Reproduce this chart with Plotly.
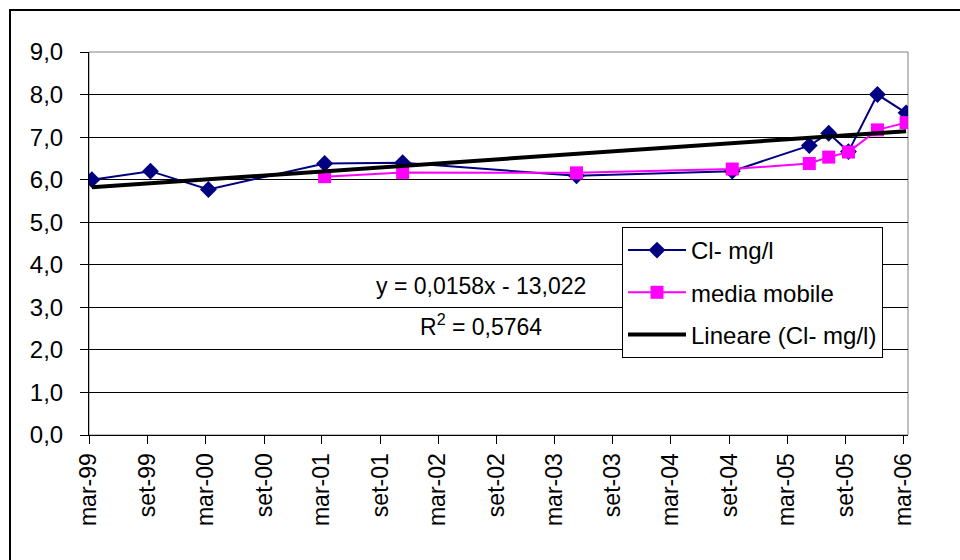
import plotly.graph_objects as go

# ---- data ----
cl_dates = ["1999-03-10", "1999-09-10", "2000-03-10", "2001-03-10", "2001-11-10",
            "2003-05-10", "2004-09-10", "2005-05-10", "2005-07-10", "2005-09-10",
            "2005-12-10", "2006-03-10"]
cl_values = [6.0, 6.2, 5.77, 6.38, 6.4, 6.09, 6.2, 6.8, 7.09, 6.66, 8.0, 7.57]

mm_dates = ["2001-03-10", "2001-11-10", "2003-05-10", "2004-09-10", "2005-05-10",
            "2005-07-10", "2005-09-10", "2005-12-10", "2006-03-10"]
mm_values = [6.07, 6.17, 6.16, 6.25, 6.38, 6.53, 6.65, 7.17, 7.34]

trend_dates = ["1999-03-10", "2006-03-10"]
trend_values = [5.82, 7.14]

tick_dates = ["1999-03-01", "1999-09-01", "2000-03-01", "2000-09-01", "2001-03-01",
              "2001-09-01", "2002-03-01", "2002-09-01", "2003-03-01", "2003-09-01",
              "2004-03-01", "2004-09-01", "2005-03-01", "2005-09-01", "2006-03-01"]
tick_labels = ["mar-99", "set-99", "mar-00", "set-00", "mar-01", "set-01", "mar-02",
               "set-02", "mar-03", "set-03", "mar-04", "set-04", "mar-05", "set-05", "mar-06"]

FONT = "Arial, Liberation Sans, sans-serif"

fig = go.Figure()
fig.add_trace(go.Scatter(
    x=cl_dates, y=cl_values, mode="lines+markers", name="Cl- mg/l",
    line=dict(color="#000080", width=2),
    marker=dict(symbol="diamond", size=13, color="#000080"),
    legendgroup="a"))
fig.add_trace(go.Scatter(
    x=mm_dates, y=mm_values, mode="lines+markers", name="media mobile",
    line=dict(color="#FF00FF", width=2),
    marker=dict(symbol="square", size=13, color="#FF00FF"),
    legendgroup="b"))
fig.add_trace(go.Scatter(
    x=trend_dates, y=trend_values, mode="lines", name="Lineare (Cl- mg/l)",
    line=dict(color="#000000", width=4),
    legendgroup="c"))

L, R, T, B = 89, 52, 52, 125
W, H = 960, 560
pw, ph = W - L - R, H - T - B

def px(x):
    return (x - L) / pw

def py(y):
    return (H - B - y) / ph

fig.update_layout(
    width=W, height=H,
    margin=dict(l=L, r=R, t=T, b=B),
    paper_bgcolor="white", plot_bgcolor="white",
    font=dict(family=FONT, size=23, color="black"),
    separators=",.",
    showlegend=True,
    legend=dict(x=px(622), y=py(227), xanchor="left", yanchor="top",
                bordercolor="black", borderwidth=1, bgcolor="white",
                font=dict(size=24), tracegroupgap=8, itemwidth=58),
    xaxis=dict(type="date", range=["1999-03-01", "2006-03-16"],
               tickvals=tick_dates, ticktext=tick_labels, tickangle=-90,
               ticks="outside", ticklen=8, tickcolor="black",
               showline=True, linecolor="black", linewidth=1,
               showgrid=False, zeroline=False, ticklabelstandoff=0,
               tickfont=dict(size=23)),
    yaxis=dict(range=[0, 9], dtick=1, tickformat=".1f",
               ticks="outside", ticklen=8, tickcolor="black",
               showline=True, linecolor="black", linewidth=1,
               showgrid=True, gridcolor="black", gridwidth=1,
               zeroline=False, ticklabelstandoff=12, tickfont=dict(size=24)),
    shapes=[
        dict(type="rect", xref="paper", yref="paper", x0=0, x1=1, y0=0, y1=1,
             line=dict(color="#808080", width=1), layer="below"),
        dict(type="rect", xref="paper", yref="paper",
             x0=px(10), x1=px(975), y0=py(575), y1=py(10),
             line=dict(color="black", width=2)),
    ],
    annotations=[
        dict(xref="paper", yref="paper", x=px(481), y=py(286), text="y = 0,0158x - 13,022",
             showarrow=False, font=dict(size=23), xanchor="center", yanchor="middle"),
        dict(xref="paper", yref="paper", x=px(481), y=py(325), text="R<sup>2</sup> = 0,5764",
             showarrow=False, font=dict(size=23), xanchor="center", yanchor="middle"),
    ],
)

fig.write_html("out.html")
